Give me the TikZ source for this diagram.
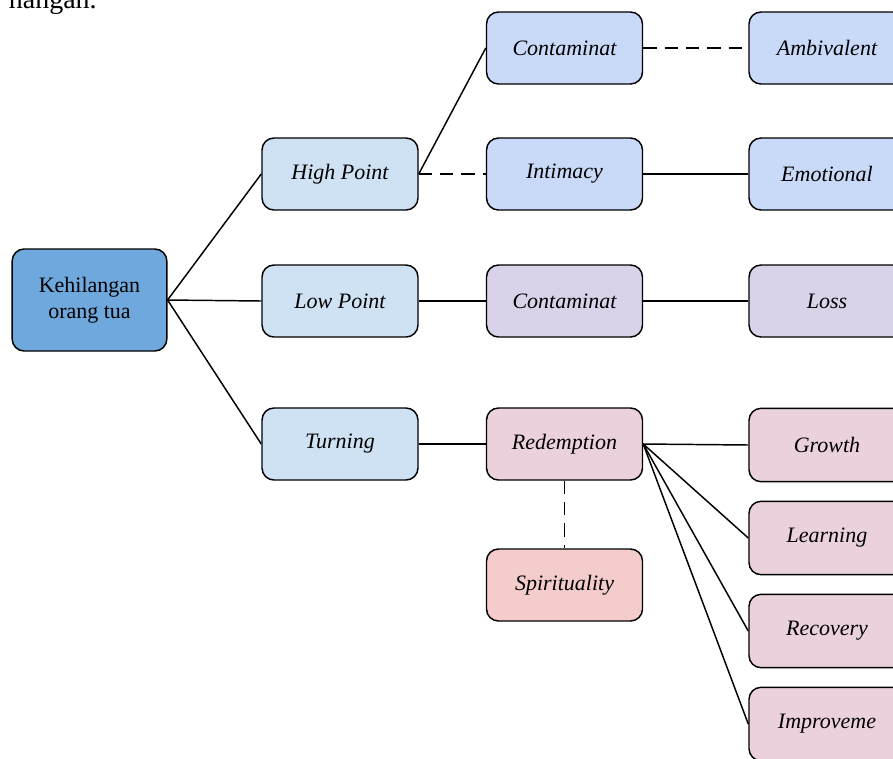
\documentclass[tikz,border=0pt]{standalone}
\usepackage{fontspec}
\setmainfont{Liberation Serif}
\usetikzlibrary{positioning}

\definecolor{rootblue}{HTML}{6FA8DC}
\definecolor{paleblue}{HTML}{CFE2F3}
\definecolor{cornflower}{HTML}{C9DAF8}
\definecolor{lavender}{HTML}{D9D2E9}
\definecolor{palepink}{HTML}{EAD1DC}
\definecolor{palered}{HTML}{F4CCCC}

\tikzset{
  box/.style={draw, line width=1.1pt, rounded corners=9pt,
    minimum width=117pt, minimum height=54pt, inner sep=0pt,
    align=center, font=\fontsize{16.5}{19.5}\selectfont\itshape},
  link/.style={line width=1.1pt},
  dlink/.style={line width=1.1pt, dash pattern=on 10pt off 6pt}
}

\begin{document}
\begin{tikzpicture}[x=0.75pt, y=-0.75pt]
  \useasboundingbox (0, 0) rectangle (893, 758);

  % tail of the sentence above
  \node[anchor=base east, inner sep=0pt, font=\fontsize{21}{24}\selectfont]
    (tail) at (97, 8) {nangan.};

  % root
  \node[box, fill=rootblue, minimum width=116pt, minimum height=76.5pt,
    font=\fontsize{16.5}{19.5}\selectfont] (root) at (89.5, 300)
    {Kehilangan\\orang tua};

  % second column
  \node[box, fill=paleblue] (high) at (340, 174) {High Point};
  \node[box, fill=paleblue] (low) at (340, 301) {Low Point};
  \node[box, fill=paleblue] (turn) at (340, 444) {Turning};

  % third column
  \node[box, fill=cornflower] (conta) at (564.5, 48) {Contaminat};
  \node[box, fill=cornflower] (intim) at (564.5, 174) {Intimacy};
  \node[box, fill=lavender] (contb) at (564.5, 301) {Contaminat};
  \node[box, fill=palepink] (redem) at (564.5, 444) {Redemption};
  \node[box, fill=palered] (spirit) at (564.5, 585) {Spirituality};

  % fourth column
  \node[box, fill=cornflower] (ambi) at (827, 48) {Ambivalent};
  \node[box, fill=cornflower] (emo) at (827, 174) {Emotional};
  \node[box, fill=lavender] (loss) at (827, 301) {Loss};
  \node[box, fill=palepink, minimum height=55pt] (grow) at (827, 445) {Growth};
  \node[box, fill=palepink, minimum height=55pt] (learn) at (827, 538) {Learning};
  \node[box, fill=palepink, minimum height=55pt] (recov) at (827, 631) {Recovery};
  \node[box, fill=palepink, minimum height=55pt] (impro) at (827, 724) {Improveme};

  % links
  \draw[link] (root.east) -- (high.west);
  \draw[link] (root.east) -- (low.west);
  \draw[link] (root.east) -- (turn.west);

  \draw[link] (high.east) -- (conta.west);
  \draw[dlink] (high.east) -- (intim.west);
  \draw[link] (low.east) -- (contb.west);
  \draw[link] (turn.east) -- (redem.west);

  \draw[dlink] (conta.east) -- (ambi.west);
  \draw[link] (intim.east) -- (emo.west);
  \draw[link] (contb.east) -- (loss.west);

  \draw[link] (redem.east) -- (grow.west);
  \draw[link] (redem.east) -- (learn.west);
  \draw[link] (redem.east) -- (recov.west);
  \draw[link] (redem.east) -- (impro.west);
  \draw[dlink] (redem.south) -- (spirit.north);
\end{tikzpicture}
\end{document}
